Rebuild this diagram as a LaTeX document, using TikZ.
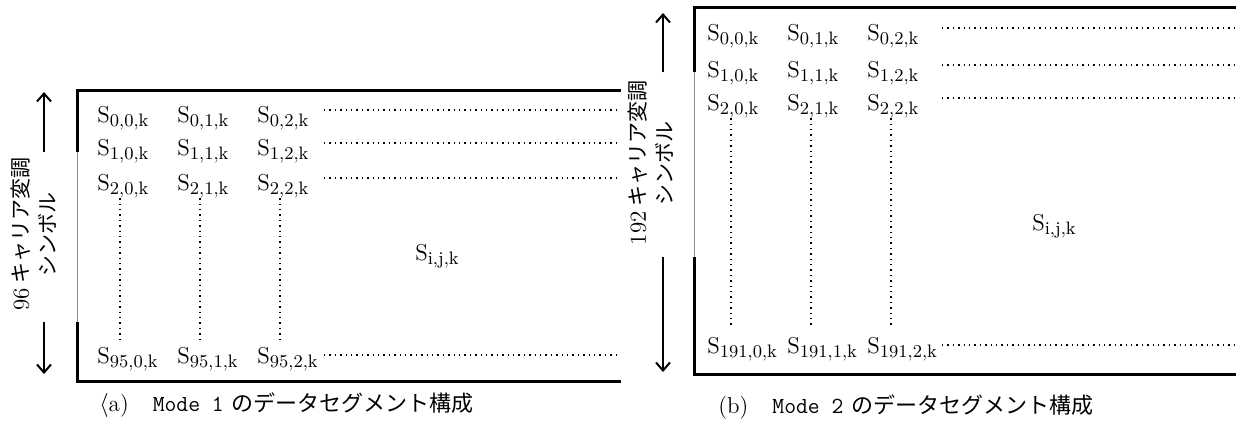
\documentclass[tikz,border=0pt]{standalone}
\usepackage{fontspec}
\newfontfamily\cjk{Noto Sans CJK JP}
\usepackage{tikz}
\usetikzlibrary{arrows.meta}

\newcommand{\Sym}[1]{S\raisebox{-2.2pt}{\fontsize{9}{10}\selectfont #1}}

\begin{document}
\begin{tikzpicture}[x=0.5pt, y=-0.5pt,
  sym/.style={anchor=base west, inner sep=0pt, font=\fontsize{11.5}{14}\selectfont},
  frame/.style={line width=1.5pt},
  seam/.style={line width=0.5pt, black!45},
  leader/.style={dotted, line width=0.7pt},
  span/.style={-{Straight Barb[length=4pt,width=7pt]}, line width=1pt},
  sidelabel/.style={rotate=90, align=center, font=\cjk\fontsize{10.5}{13.5}\selectfont},
  caption/.style={anchor=west, inner sep=0pt, font=\fontsize{11.5}{13}\selectfont}]
\useasboundingbox (0,0) rectangle (1240,428);

% (a) Mode 1
\draw[frame] (621,90) -- (77,90) -- (77,152);
\draw[seam] (77,152) -- (77,322);
\draw[frame] (77,322) -- (77,381) -- (621,381);
\coordinate (adot) at (324,0);
\coordinate (aend) at (620,0);

\node[sym] (a00) at (97,122)  {\Sym{0,0,k}};
\node[sym] (a01) at (177,122) {\Sym{0,1,k}};
\node[sym] (a02) at (257,122) {\Sym{0,2,k}};
\node[sym] (a10) at (97,155)  {\Sym{1,0,k}};
\node[sym] (a11) at (177,155) {\Sym{1,1,k}};
\node[sym] (a12) at (257,155) {\Sym{1,2,k}};
\node[sym] (a20) at (97,190)  {\Sym{2,0,k}};
\node[sym] (a21) at (177,190) {\Sym{2,1,k}};
\node[sym] (a22) at (257,190) {\Sym{2,2,k}};
\node[sym] (an0) at (97,363)  {\Sym{95,0,k}};
\node[sym] (an1) at (177,363) {\Sym{95,1,k}};
\node[sym] (an2) at (257,363) {\Sym{95,2,k}};
\node[sym, anchor=base] (aij) at (437,260) {\Sym{i,j,k}};

\draw[leader] ([yshift=6pt]a02.base -| adot) -- ([yshift=6pt]a02.base -| aend);
\draw[leader] ([yshift=6pt]a12.base -| adot) -- ([yshift=6pt]a12.base -| aend);
\draw[leader] ([yshift=6pt]a22.base -| adot) -- ([yshift=6pt]a22.base -| aend);
\draw[leader] ([yshift=4pt]an2.base -| adot) -- ([yshift=4pt]an2.base -| aend);
\draw[leader, shorten >=2pt] ([xshift=-1.5pt]a20.south) -- ([xshift=-1.5pt]a20.south |- an0.north);
\draw[leader, shorten >=2pt] ([xshift=-1.5pt]a21.south) -- ([xshift=-1.5pt]a21.south |- an1.north);
\draw[leader, shorten >=2pt] ([xshift=-1.5pt]a22.south) -- ([xshift=-1.5pt]a22.south |- an2.north);

\draw[span] (44,152) -- (44,92);
\draw[span] (44,322) -- (44,374);
\node[sidelabel] (aside) at (34,234) {{\normalfont\fontsize{11.5}{13.5}\selectfont 96} キャリア変調\\シンボル};

\node[caption] (capa) at (99,405)
  {$\langle$a)\hspace{12pt}{\ttfamily Mode 1}\hspace{4pt}{\cjk\fontsize{11}{13}\selectfont のデータセグメント構成}};

% (b) Mode 2
\draw[frame] (1236,7) -- (694,7) -- (694,72);
\draw[seam] (694,72) -- (694,257);
\draw[frame] (694,257) -- (694,374) -- (1236,374);
\coordinate (bdot) at (942,0);
\coordinate (bend) at (1236,0);

\node[sym] (b00) at (707,40)  {\Sym{0,0,k}};
\node[sym] (b01) at (787,40)  {\Sym{0,1,k}};
\node[sym] (b02) at (867,40)  {\Sym{0,2,k}};
\node[sym] (b10) at (707,77)  {\Sym{1,0,k}};
\node[sym] (b11) at (787,77)  {\Sym{1,1,k}};
\node[sym] (b12) at (867,77)  {\Sym{1,2,k}};
\node[sym] (b20) at (707,110) {\Sym{2,0,k}};
\node[sym] (b21) at (787,110) {\Sym{2,1,k}};
\node[sym] (b22) at (867,110) {\Sym{2,2,k}};
\node[sym] (bn0) at (707,353) {\Sym{191,0,k}};
\node[sym] (bn1) at (787,353) {\Sym{191,1,k}};
\node[sym] (bn2) at (867,353) {\Sym{191,2,k}};
\node[sym, anchor=base] (bij) at (1054,230) {\Sym{i,j,k}};

\draw[leader] ([yshift=6pt]b02.base -| bdot) -- ([yshift=6pt]b02.base -| bend);
\draw[leader] ([yshift=6pt]b12.base -| bdot) -- ([yshift=6pt]b12.base -| bend);
\draw[leader] ([yshift=6pt]b22.base -| bdot) -- ([yshift=6pt]b22.base -| bend);
\draw[leader] ([yshift=4pt]bn2.base -| bdot) -- ([yshift=4pt]bn2.base -| bend);
\draw[leader, shorten >=5pt] ([xshift=-1pt]b20.south) -- ([xshift=-1pt]b20.south |- bn0.north);
\draw[leader, shorten >=5pt] ([xshift=-1pt]b21.south) -- ([xshift=-1pt]b21.south |- bn1.north);
\draw[leader, shorten >=5pt] ([xshift=-1pt]b22.south) -- ([xshift=-1pt]b22.south |- bn2.north);

\draw[span] (663,72) -- (663,13);
\draw[span] (663,257) -- (663,372);
\node[sidelabel] (bside) at (651,163) {{\normalfont\fontsize{11.5}{13.5}\selectfont 192} キャリア変調\\シンボル};

\node[caption] (capb) at (718,407)
  {(b)\hspace{12pt}{\ttfamily Mode 2}\hspace{4pt}{\cjk\fontsize{11}{13}\selectfont のデータセグメント構成}};
\end{tikzpicture}
\end{document}
